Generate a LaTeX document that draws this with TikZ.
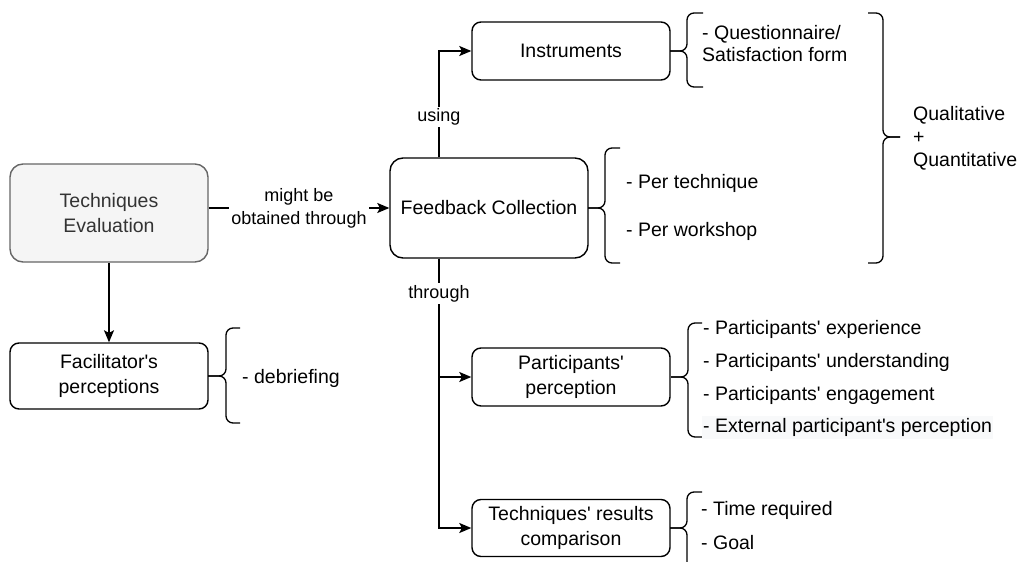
\documentclass[tikz,border=0pt]{standalone}
\usepackage{fontspec}
\setmainfont{Liberation Sans}
\usetikzlibrary{arrows.meta}
\definecolor{tegray}{HTML}{F5F5F5}
\definecolor{tedraw}{HTML}{666666}
\definecolor{tetext}{HTML}{333333}
\definecolor{hlbg}{HTML}{F8F9FA}
\newcommand{\LBrace}[6]{%
  \draw[brc] (#3,#4) -- (#2,#4) -- (#2,#5) -- (#1,#5);
  \draw[brc] (#1,#5) -- (#2,#5) -- (#2,#6) -- (#3,#6);}
\newcommand{\q}{\textquotesingle}
\tikzset{
  x=1pt, y=-1pt,
  box/.style={draw, line width=1.4pt, rounded corners=9pt, align=center,
    font=\fontsize{19.5}{25}\selectfont, inner sep=2pt},
  lbl/.style={font=\fontsize{19.5}{23}\selectfont, align=left, inner sep=1pt},
  elbl/.style={font=\fontsize{18}{23}\selectfont, align=center, fill=white, inner sep=2pt},
  conn/.style={line width=1.4pt, -{Stealth[length=12pt,width=10pt,inset=2.5pt]}},
  brc/.style={line width=1.3pt, rounded corners=7pt},
}
\begin{document}
\begin{tikzpicture}
\useasboundingbox (0,0) rectangle (1021,562);

\node[box, fill=tegray, draw=tedraw, text=tetext, rounded corners=13pt,
  minimum width=198pt, minimum height=98pt] (TE) at (109,213) {Techniques\\Evaluation};
\node[box, minimum width=198pt, minimum height=66pt] (FP) at (109,376) {Facilitator\q s\\perceptions};
\node[box, rounded corners=13pt, minimum width=198pt, minimum height=100pt] (FC) at (489,208) {Feedback Collection};
\node[box, minimum width=198pt, minimum height=58pt] (IN) at (571,51) {Instruments};
\node[box, minimum width=198pt, minimum height=58pt] (PP) at (571,377) {Participants\q\\perception};
\node[box, minimum width=198pt, minimum height=57pt] (TRC) at (571,528) {Techniques\q{} results\\comparison};

% connectors
\draw[conn] (TE.south) -- (FP.north);
\draw[conn] (TE.east |- FC.west) -- node[elbl, pos=0.5] {might be\\obtained through} (FC.west);
\coordinate (up) at (439,0);
\draw[conn] (FC.north -| up) |- node[elbl, pos=0.19] {using} (IN.west);
\draw[conn] (FC.south -| up) |- (PP.west);
\draw[conn] (FC.south -| up) |- node[elbl, pos=0.065] {through} (TRC.west);

% braces
\LBrace{208}{226}{240}{328}{376}{423}
\LBrace{670}{687}{703}{13}{51}{87}
\LBrace{588}{605}{620}{148}{208}{263}
\LBrace{671}{688}{702}{323}{377}{437}
\LBrace{670}{687}{702}{492}{528}{578}
\LBrace{900}{883}{868}{13}{137}{263}

% brace texts
\node[lbl, anchor=west] (db) at (241,378) {- debriefing};
\node[lbl, anchor=west, font=\fontsize{19.5}{22}\selectfont] (q) at (701,44) {- Questionnaire/\\Satisfaction form};
\node[lbl, anchor=west] (pt) at (625,183) {- Per technique};
\node[lbl, anchor=west] (pw) at (625,231) {- Per workshop};
\node[lbl, anchor=west] (qq) at (912,138) {Qualitative\\+\\Quantitative};
\node[lbl, anchor=west] (p1) at (702,329) {- Participants\q{} experience};
\node[lbl, anchor=west] (p2) at (702,362) {- Participants\q{} understanding};
\node[lbl, anchor=west] (p3) at (702,395) {- Participants\q{} engagement};
\node[lbl, anchor=west, fill=hlbg, minimum height=23pt] (p4) at (702,427) {- External participant\q s perception};
\node[lbl, anchor=west] (t1) at (700,510) {- Time required};
\node[lbl, anchor=west] (t2) at (700,543) {- Goal};
\end{tikzpicture}
\end{document}
